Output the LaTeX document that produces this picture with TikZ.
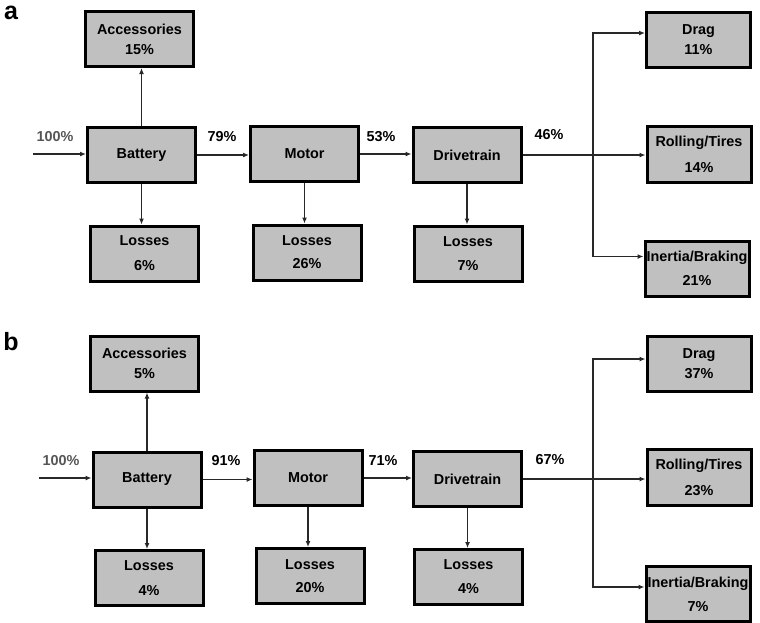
\documentclass[tikz,border=0pt]{standalone}
\usepackage{fontspec}
\setmainfont{Liberation Sans}
\usetikzlibrary{arrows.meta}
\definecolor{boxgray}{RGB}{192,192,192}
\definecolor{linegray}{RGB}{40,40,40}
\definecolor{ingray}{RGB}{85,85,85}
\begin{document}
\begin{tikzpicture}[x=1pt, y=-1pt,
    blk/.style={draw=black, line width=3pt, fill=boxgray, minimum width=108pt, minimum height=55pt, inner sep=0pt, align=center, font=\fontsize{14.4}{20}\selectfont\bfseries},
    sml/.style={blk, minimum width=104pt},
    pct/.style={font=\fontsize{14.4}{17}\selectfont\bfseries},
    arr/.style={line width=1.6pt, draw=linegray, -{Latex[length=6pt,width=5pt]}},
    lbl/.style={font=\fontsize{25}{25}\selectfont\bfseries}]
    \useasboundingbox (0,0) rectangle (760,622);

    % panel a
    \node[lbl] (la) at (11,13) {a};
    \node[blk] (acA) at (139.5,39) {Accessories\\15\%};
    \node[blk] (batA) at (141.5,155) {Battery};
    \node[blk] (lbatA) at (144.5,253.5) {Losses\\[5pt]6\%};
    \node[blk] (motA) at (304.5,154) {Motor};
    \node[blk] (lmotA) at (307,252.5) {Losses\\[3pt]26\%};
    \node[blk] (drvA) at (467,155) {Drivetrain};
    \node[blk] (ldrvA) at (468,253.5) {Losses\\[4pt]7\%};
    \node[sml] (dragA) at (698.5,40) {Drag\\11\%};
    \node[sml, minimum height=56pt] (rollA) at (699,154) {Rolling/Tires\\[6pt]14\%};
    \node[sml] (inerA) at (697,268.5) {Inertia/Braking\\[4pt]21\%};

    \node[pct, text=ingray] (pinA) at (55,137) {100\%};
    \node[pct] (p1A) at (222,137) {79\%};
    \node[pct] (p2A) at (381,137) {53\%};
    \node[pct] (p3A) at (549,135) {46\%};

    \coordinate (inA) at (33,154);
    \coordinate (brA) at (593,154);
    \draw[arr] (inA) -- (inA -| batA.west);
    \draw[arr] (batA.north) -- (batA.north |- acA.south);
    \draw[arr] (batA.south) -- (batA.south |- lbatA.north);
    \draw[arr] (batA.east) -- (batA.east -| motA.west);
    \draw[arr] (motA.south) -- (motA.south |- lmotA.north);
    \draw[arr] (motA.east) -- (motA.east -| drvA.west);
    \draw[arr] (drvA.south) -- (drvA.south |- ldrvA.north);
    \draw[arr] (drvA.east) -- (drvA.east -| rollA.west);
    \draw[arr] (brA) |- ([yshift=7pt]dragA.west);
    \draw[arr] (brA) |- ([yshift=12pt]inerA.west);

    % panel b
    \node[lbl] (lb) at (11,342) {b};
    \node[blk] (acB) at (144.5,363.5) {Accessories\\5\%};
    \node[blk] (batB) at (147,479.5) {Battery};
    \node[blk] (lbatB) at (149,578) {Losses\\[5pt]4\%};
    \node[blk] (motB) at (308,478) {Motor};
    \node[blk] (lmotB) at (310,576) {Losses\\[3pt]20\%};
    \node[blk] (drvB) at (467.5,479) {Drivetrain};
    \node[blk] (ldrvB) at (468.5,577) {Losses\\[4pt]4\%};
    \node[sml] (dragB) at (699,364) {Drag\\37\%};
    \node[sml, minimum height=56pt] (rollB) at (699,477.5) {Rolling/Tires\\[6pt]23\%};
    \node[sml] (inerB) at (698,594) {Inertia/Braking\\[4pt]7\%};

    \node[pct, text=ingray] (pinB) at (61,461) {100\%};
    \node[pct] (p1B) at (226,461) {91\%};
    \node[pct] (p2B) at (383,461) {71\%};
    \node[pct] (p3B) at (550,460) {67\%};

    \coordinate (inB) at (39,478);
    \coordinate (brB) at (593,477);
    \draw[arr] (inB) -- (inB -| batB.west);
    \draw[arr] (batB.north) -- (batB.north |- acB.south);
    \draw[arr] (batB.south) -- (batB.south |- lbatB.north);
    \draw[arr] (batB.east) -- (batB.east -| motB.west);
    \draw[arr] (motB.south) -- (motB.south |- lmotB.north);
    \draw[arr] (motB.east) -- (motB.east -| drvB.west);
    \draw[arr] (drvB.south) -- (drvB.south |- ldrvB.north);
    \draw[arr] (drvB.east) -- (drvB.east -| rollB.west);
    \draw[arr] (brB) |- ([yshift=5pt]dragB.west);
    \draw[arr] (brB) |- ([yshift=7pt]inerB.west);
\end{tikzpicture}
\end{document}
